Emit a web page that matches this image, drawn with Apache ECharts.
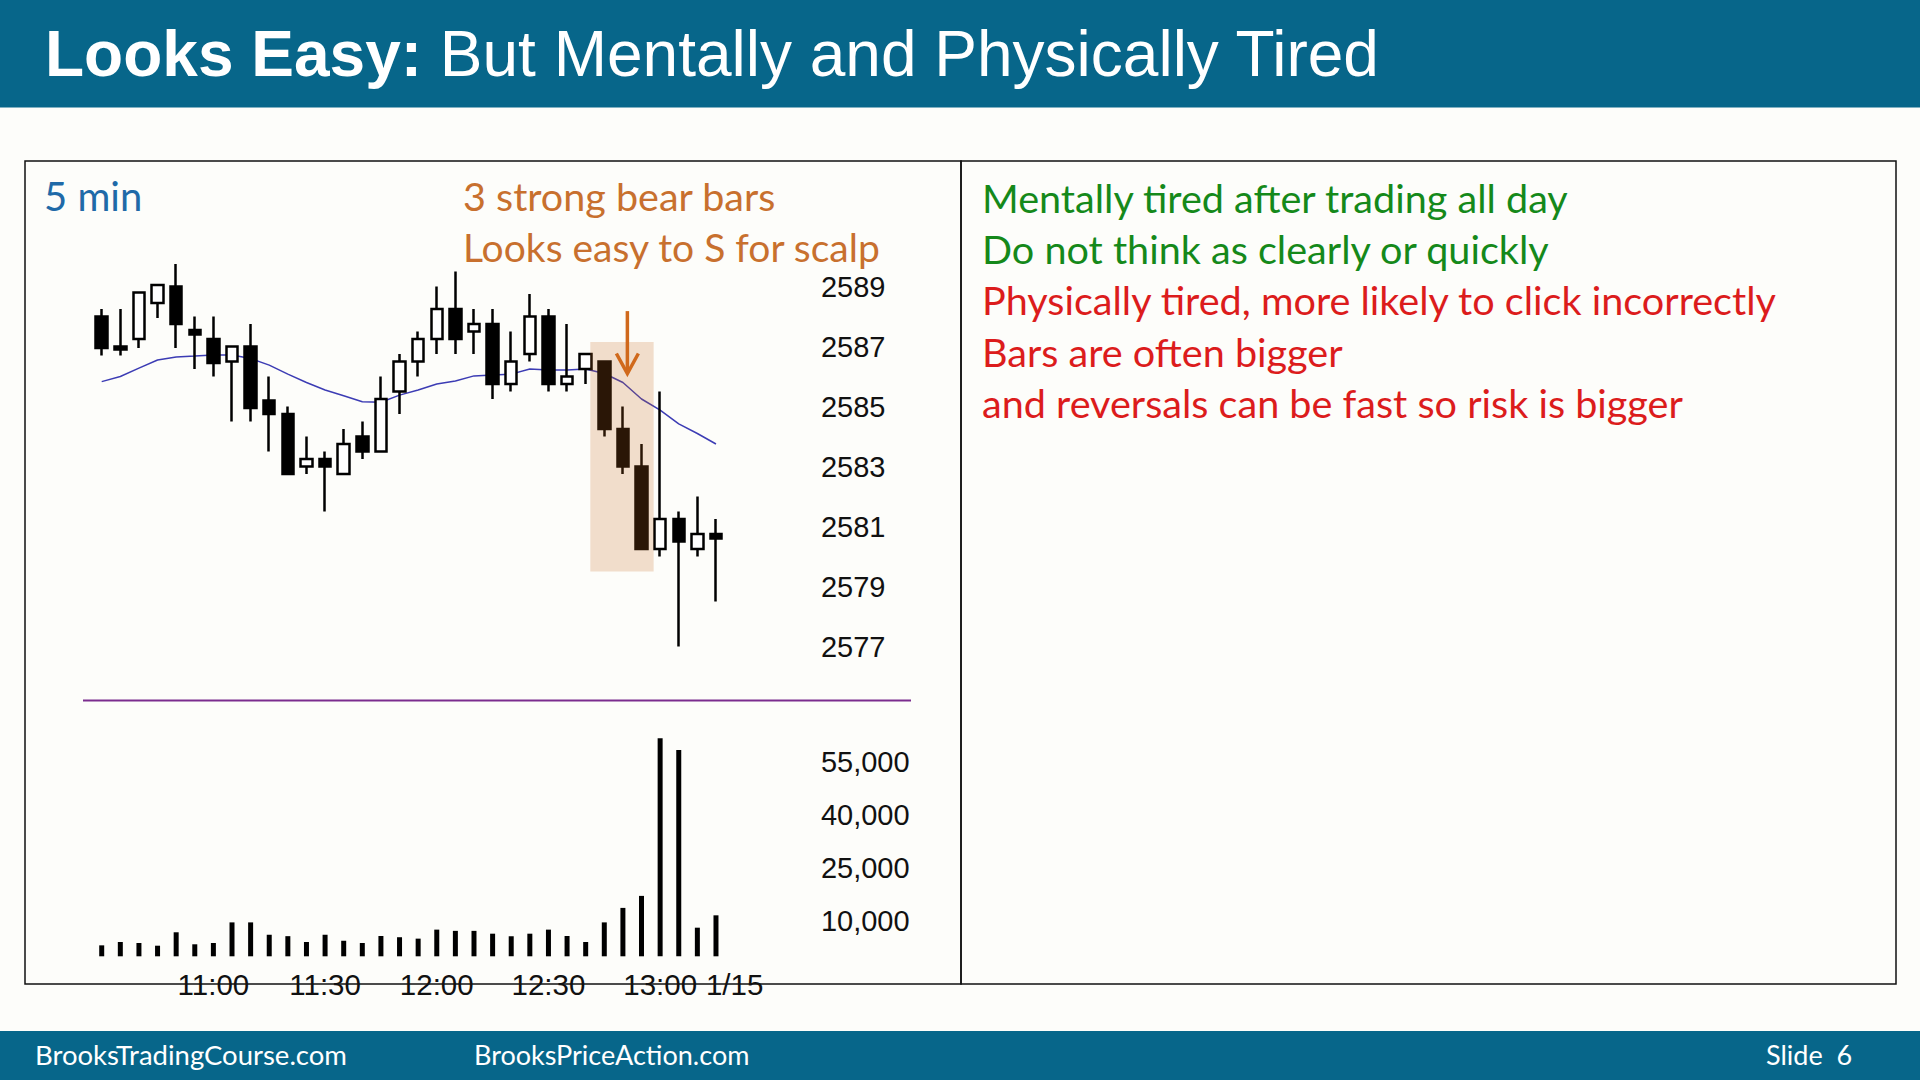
<!DOCTYPE html>
<html><head><meta charset="utf-8">
<script src="https://cdn.jsdelivr.net/npm/echarts@6/dist/echarts.min.js"></script>
<style>html,body{margin:0;padding:0;background:#fdfdfa;}#c{width:1920px;height:1080px;}</style>
</head><body><div id="c"></div>
<script>
// ---- data ----
const times = ['10:30','10:35','10:40','10:45','10:50','10:55','11:00','11:05','11:10','11:15','11:20','11:25',
  '11:30','11:35','11:40','11:45','11:50','11:55','12:00','12:05','12:10','12:15','12:20','12:25',
  '12:30','12:35','12:40','12:45','12:50','12:55','13:00','13:05','13:10','13:15','1/15'];
const timeTicks = ['11:00','11:30','12:00','12:30','13:00','1/15'];
const opens  = [2588.0,2587.0,2587.25,2588.45,2589.0,2587.55,2587.25,2586.5,2587.0,2585.2,2584.75,2583.0,
  2583.25,2582.75,2584.0,2583.5,2585.5,2586.5,2587.25,2588.25,2587.5,2587.75,2585.75,2586.75,
  2588.0,2585.75,2586.25,2586.5,2584.25,2583.0,2580.25,2581.25,2580.25,2580.75];
const closes = [2586.95,2586.9,2588.8,2589.05,2587.75,2587.4,2586.45,2587.0,2584.95,2584.75,2582.75,2583.25,
  2583.0,2583.75,2583.5,2585.25,2586.5,2587.25,2588.25,2587.25,2587.75,2585.75,2586.5,2588.0,
  2585.75,2586.0,2586.75,2584.25,2583.0,2580.25,2581.25,2580.5,2580.75,2580.6];
const lows   = [2586.7,2586.7,2586.95,2587.95,2586.95,2586.25,2586.0,2584.5,2584.5,2583.5,2582.75,2582.75,
  2581.5,2582.75,2583.25,2583.5,2584.75,2586.0,2586.75,2586.75,2586.75,2585.25,2585.5,2586.5,
  2585.5,2585.5,2585.75,2584.0,2582.75,2580.25,2580.0,2577.0,2580.0,2578.5];
const highs  = [2588.25,2588.25,2588.8,2589.05,2589.75,2588.0,2588.0,2587.0,2587.75,2586.0,2585.0,2584.0,
  2583.5,2584.25,2584.5,2586.0,2586.75,2587.5,2589.0,2589.5,2588.25,2588.25,2587.5,2588.75,
  2588.25,2587.75,2586.75,2586.5,2585.0,2583.75,2585.5,2581.5,2582.0,2581.25];
const ma20   = [2585.83,2586.0,2586.28,2586.55,2586.65,2586.68,2586.72,2586.72,2586.6,2586.38,2586.08,2585.8,
  2585.55,2585.36,2585.16,2585.14,2585.38,2585.55,2585.75,2585.85,2586.02,2586.05,2586.08,2586.25,
  2586.22,2586.22,2586.25,2586.1,2585.8,2585.25,2584.88,2584.42,2584.1,2583.75];
const volumes = [3100,4050,3770,3000,6800,3400,3770,9600,9600,6100,5700,4050,
  6100,4400,3770,5750,5400,5000,7550,7200,7200,6400,5700,6400,
  7550,5750,4050,9600,13700,17100,61700,58400,8100,11600];
const priceTicks = [2577,2579,2581,2583,2585,2587,2589];
const volumeTicks = [10000,25000,40000,55000];
// highlighted bear bars: first index, last index, top price, bottom price
const highlightBox = [27, 29, 2587.15, 2579.5];
// arrow: bar index, from price, to price
const arrowData = [28, 2588.18, 2586.1];

const titleBold = 'Looks Easy:';
const titleRest = 'But Mentally and Physically Tired';
const paneLabel = '5 min';
const noteLines = ['3 strong bear bars','Looks easy to S for scalp'];
const greenLines = ['Mentally tired after trading all day','Do not think as clearly or quickly'];
const redLines = ['Physically tired, more likely to click incorrectly','Bars are often bigger','and reversals can be fast so risk is bigger'];
const footer = ['BrooksTradingCourse.com','BrooksPriceAction.com','Slide  6'];

// ---- chart ----
const candleData = opens.map((o,i)=>[o, closes[i], lows[i], highs[i]]);
const AX = 'Liberation Sans, Arial, sans-serif';
const CAL = 'Lato, Carlito, Calibri, sans-serif';
const chart = echarts.init(document.getElementById('c'), null, {renderer:'svg', width:1920, height:1080});

const graphic = [
  {type:'rect', shape:{x:0,y:0,width:1920,height:107.5}, style:{fill:'#07668a'}, z:0},
  {type:'rect', shape:{x:0,y:1031,width:1920,height:49}, style:{fill:'#07668a'}, z:0},
  {type:'rect', shape:{x:25,y:161,width:936,height:823}, style:{fill:'none', stroke:'#111', lineWidth:1.5}, z:0},
  {type:'rect', shape:{x:961,y:161,width:935,height:823}, style:{fill:'none', stroke:'#111', lineWidth:1.5}, z:0},
  {type:'line', shape:{x1:83,y1:700.5,x2:911,y2:700.5}, style:{stroke:'#7b2d8e', lineWidth:2}, z:0},
  {type:'text', x:45, y:54, style:{text:'{b|'+titleBold+'}{r|\u00a0'+titleRest+'}', verticalAlign:'middle',
    rich:{b:{fontFamily:AX, fontWeight:'bold', fontSize:64, fill:'#fff'}, r:{fontFamily:AX, fontSize:64, fill:'#fff'}}}},
  {type:'text', x:44, y:195.5, style:{text:paneLabel, font:'40px '+CAL, fill:'#1f6aa8', verticalAlign:'middle'}},
  {type:'text', x:463, y:195, style:{text:noteLines[0], font:'39.5px '+CAL, fill:'#c8702e', verticalAlign:'middle'}},
  {type:'text', x:463, y:246.5, style:{text:noteLines[1], font:'39px '+CAL, fill:'#c8702e', verticalAlign:'middle'}},
  {type:'text', x:35, y:1054, style:{text:footer[0], font:'27.5px '+CAL, fill:'#fff', verticalAlign:'middle'}},
  {type:'text', x:474, y:1054, style:{text:footer[1], font:'27px '+CAL, fill:'#fff', verticalAlign:'middle'}},
  {type:'text', x:1766, y:1054, style:{text:footer[2], font:'27px '+CAL, fill:'#fff', verticalAlign:'middle'}}
];
const rightY = [197, 248.4, 299.8, 351.2, 402.6];
greenLines.concat(redLines).forEach((t,i)=>{
  graphic.push({type:'text', x:982, y:rightY[i], style:{text:t, font:'39.6px '+CAL, fill: i<greenLines.length?'#15891a':'#dc1c1c', verticalAlign:'middle'}});
});

const option = {
  animation:false,
  backgroundColor:'#fdfdfa',
  grid:[{left:92.4, top:226.5, width:651.5, height:480},{left:92.4, top:709, width:651.5, height:247.3}],
  xAxis:[
    {type:'category', gridIndex:0, data:times, boundaryGap:true, axisLine:{show:false}, axisTick:{show:false}, axisLabel:{show:false}, splitLine:{show:false}},
    {type:'category', gridIndex:1, data:times, boundaryGap:true, axisLine:{show:false}, axisTick:{show:false}, splitLine:{show:false},
     axisLabel:{interval:(i,v)=>timeTicks.includes(v), margin:13, fontSize:29.5, color:'#111', fontFamily:AX}}
  ],
  yAxis:[
    {type:'value', gridIndex:0, position:'right', min:2575, max:2591, interval:2, scale:true,
     splitLine:{show:false}, axisLine:{show:false}, axisTick:{show:false},
     axisLabel:{formatter:v=>priceTicks.includes(v)?String(v):'', margin:77, fontSize:29, color:'#111', fontFamily:AX, align:'left'}},
    {type:'value', gridIndex:1, position:'right', min:0, max:70000, interval:5000,
     splitLine:{show:false}, axisLine:{show:false}, axisTick:{show:false},
     axisLabel:{formatter:v=>volumeTicks.includes(v)?v.toLocaleString('en-US'):'', margin:77, fontSize:29, color:'#111', fontFamily:AX, align:'left'}}
  ],
  series:[
    {type:'candlestick', xAxisIndex:0, yAxisIndex:0, data:candleData, barWidth:12, z:2,
     itemStyle:{color:'#ffffff', color0:'#000000', borderColor:'#000000', borderColor0:'#000000', borderWidth:2.5}},
    {type:'line', xAxisIndex:0, yAxisIndex:0, data:ma20, symbol:'none', z:2, lineStyle:{color:'#3c3cb4', width:1.5}},
    {type:'bar', xAxisIndex:1, yAxisIndex:1, data:volumes, barWidth:5, itemStyle:{color:'#000'}},
    {type:'custom', xAxisIndex:0, yAxisIndex:0, z:5, data:[highlightBox], encode:{x:[0,1], y:[2,3]},
     renderItem:(params, api)=>{
       const a = api.coord([api.value(0), api.value(2)]);
       const b = api.coord([api.value(1), api.value(3)]);
       const w = api.size([1,0])[0];
       return {type:'rect', shape:{x:a[0]-0.75*w, y:a[1], width:b[0]-a[0]+1.4*w, height:b[1]-a[1]}, style:{fill:'rgba(196,104,30,0.21)'}};
     }},
    {type:'custom', xAxisIndex:0, yAxisIndex:0, z:6, data:[arrowData], encode:{x:0, y:[1,2]},
     renderItem:(params, api)=>{
       const w = api.size([1,0])[0];
       const a = api.coord([api.value(0), api.value(1)]);
       const b = api.coord([api.value(0), api.value(2)]);
       const x = a[0] + 0.24*w;
       return {type:'group', children:[
         {type:'line', shape:{x1:x, y1:a[1], x2:x, y2:b[1]-1}, style:{stroke:'#d0691c', lineWidth:3.5}},
         {type:'polyline', shape:{points:[[x-11,b[1]-20],[x,b[1]],[x+11,b[1]-20]]}, style:{stroke:'#d0691c', lineWidth:3.5, fill:'none'}}
       ]};
     }}
  ],
  graphic: graphic
};
chart.setOption(option);
</script></body></html>
